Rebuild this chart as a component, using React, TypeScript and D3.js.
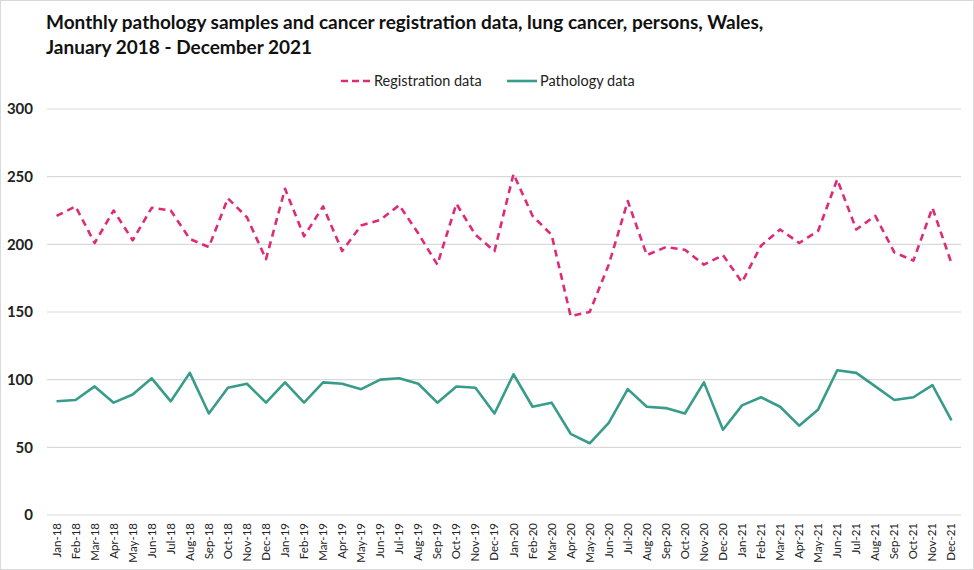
import React, { useRef, useEffect } from 'react';
import * as d3 from 'd3';

const MONTHS = ['Jan', 'Feb', 'Mar', 'Apr', 'May', 'Jun', 'Jul', 'Aug', 'Sep', 'Oct', 'Nov', 'Dec'];
const YEARS = ['18', '19', '20', '21'];
const CATEGORIES = YEARS.flatMap(y => MONTHS.map(m => `${m}-${y}`));

const REGISTRATION = [
    221, 228, 201, 225, 203, 227, 225, 204, 198, 234, 220, 189,
    241, 206, 228, 195, 214, 218, 229, 208, 185, 230, 207, 195,
    252, 221, 207, 147, 150, 185, 232, 192, 198, 196, 185, 192,
    172, 199, 211, 201, 210, 248, 211, 221, 194, 188, 227, 186,
];

const PATHOLOGY = [
    84, 85, 95, 83, 89, 101, 84, 105, 75, 94, 97, 83,
    98, 83, 98, 97, 93, 100, 101, 97, 83, 95, 94, 75,
    104, 80, 83, 60, 53, 68, 93, 80, 79, 75, 98, 63,
    81, 87, 80, 66, 78, 107, 105, 95, 85, 87, 96, 70,
];

const Y_TICKS = [0, 50, 100, 150, 200, 250, 300];

const TITLE_LINES = [
    'Monthly pathology samples and cancer registration data, lung cancer, persons, Wales,',
    'January 2018 - December 2021',
];

const PINK = '#df2a78';
const TEAL = '#389c8a';
const FONT = 'Lato, "Open Sans", sans-serif';

const App: React.FC = () => {
    const svgRef = useRef<SVGSVGElement | null>(null);

    useEffect(() => {
        if (!svgRef.current) return;
        const width = 974, height = 570;
        const margin = { top: 109, right: 13, bottom: 55, left: 47 };

        const svg = d3.select(svgRef.current);
        svg.selectAll('*').remove();
        svg.attr('width', width).attr('height', height).style('font-family', FONT);

        svg.append('rect')
            .attr('x', 0.5).attr('y', 0.5).attr('width', width - 1).attr('height', height - 1)
            .attr('fill', 'white').attr('stroke', '#d9d9d9');

        const x = d3.scaleBand<string>().domain(CATEGORIES).range([margin.left, width - margin.right]);
        const y = d3.scaleLinear().domain([0, 300]).range([height - margin.bottom, margin.top]);
        const cx = (d: string) => (x(d) ?? 0) + x.bandwidth() / 2;

        // title
        svg.append('g').selectAll('text')
            .data(TITLE_LINES)
            .join('text')
            .attr('x', 46).attr('y', (_, i) => 29 + i * 25)
            .attr('font-size', 19).attr('font-weight', 700).attr('fill', '#111')
            .text(d => d);

        // grid
        svg.append('g').selectAll('line')
            .data(Y_TICKS)
            .join('line')
            .attr('x1', margin.left).attr('x2', width - margin.right)
            .attr('y1', d => y(d)).attr('y2', d => y(d))
            .attr('stroke', '#d9d9d9').attr('stroke-width', 1.2);

        // y labels
        svg.append('g').selectAll('text')
            .data(Y_TICKS)
            .join('text')
            .attr('x', 33).attr('y', d => y(d)).attr('dy', '0.35em')
            .attr('text-anchor', 'end').attr('font-size', 15).attr('font-weight', 700).attr('fill', '#222')
            .text(d => d);

        // x labels
        svg.append('g').selectAll('text')
            .data(CATEGORIES)
            .join('text')
            .attr('transform', d => `translate(${cx(d) + 4},${y(0) + 8}) rotate(-90)`)
            .attr('text-anchor', 'end').attr('font-size', 11.5).attr('fill', '#222')
            .text(d => d);

        const line = d3.line<number>()
            .x((_, i) => cx(CATEGORIES[i]))
            .y(d => y(d));

        svg.append('path')
            .datum(PATHOLOGY)
            .attr('d', line)
            .attr('fill', 'none').attr('stroke', TEAL).attr('stroke-width', 2.6)
            .attr('stroke-linejoin', 'round');

        svg.append('path')
            .datum(REGISTRATION)
            .attr('d', line)
            .attr('fill', 'none').attr('stroke', PINK).attr('stroke-width', 2.6)
            .attr('stroke-dasharray', '7,5').attr('stroke-linejoin', 'round');

        // legend
        const legend = [
            { label: 'Registration data', color: PINK, dash: '7,4', x: 341 },
            { label: 'Pathology data', color: TEAL, dash: null, x: 507 },
        ];
        const lg = svg.append('g').selectAll('g').data(legend).join('g')
            .attr('transform', d => `translate(${d.x},81)`);
        lg.append('line')
            .attr('x1', 0).attr('x2', 30).attr('y1', 0).attr('y2', 0)
            .attr('stroke', d => d.color).attr('stroke-width', 2.6)
            .attr('stroke-dasharray', d => d.dash);
        lg.append('text')
            .attr('x', 33).attr('dy', '0.35em')
            .attr('font-size', 14.5).attr('fill', '#222')
            .text(d => d.label);
    }, []);

    return (
        <div style={{ position: 'absolute', left: 0, top: 0 }}>
            <svg ref={svgRef}></svg>
        </div>
    );
};

export default App;
